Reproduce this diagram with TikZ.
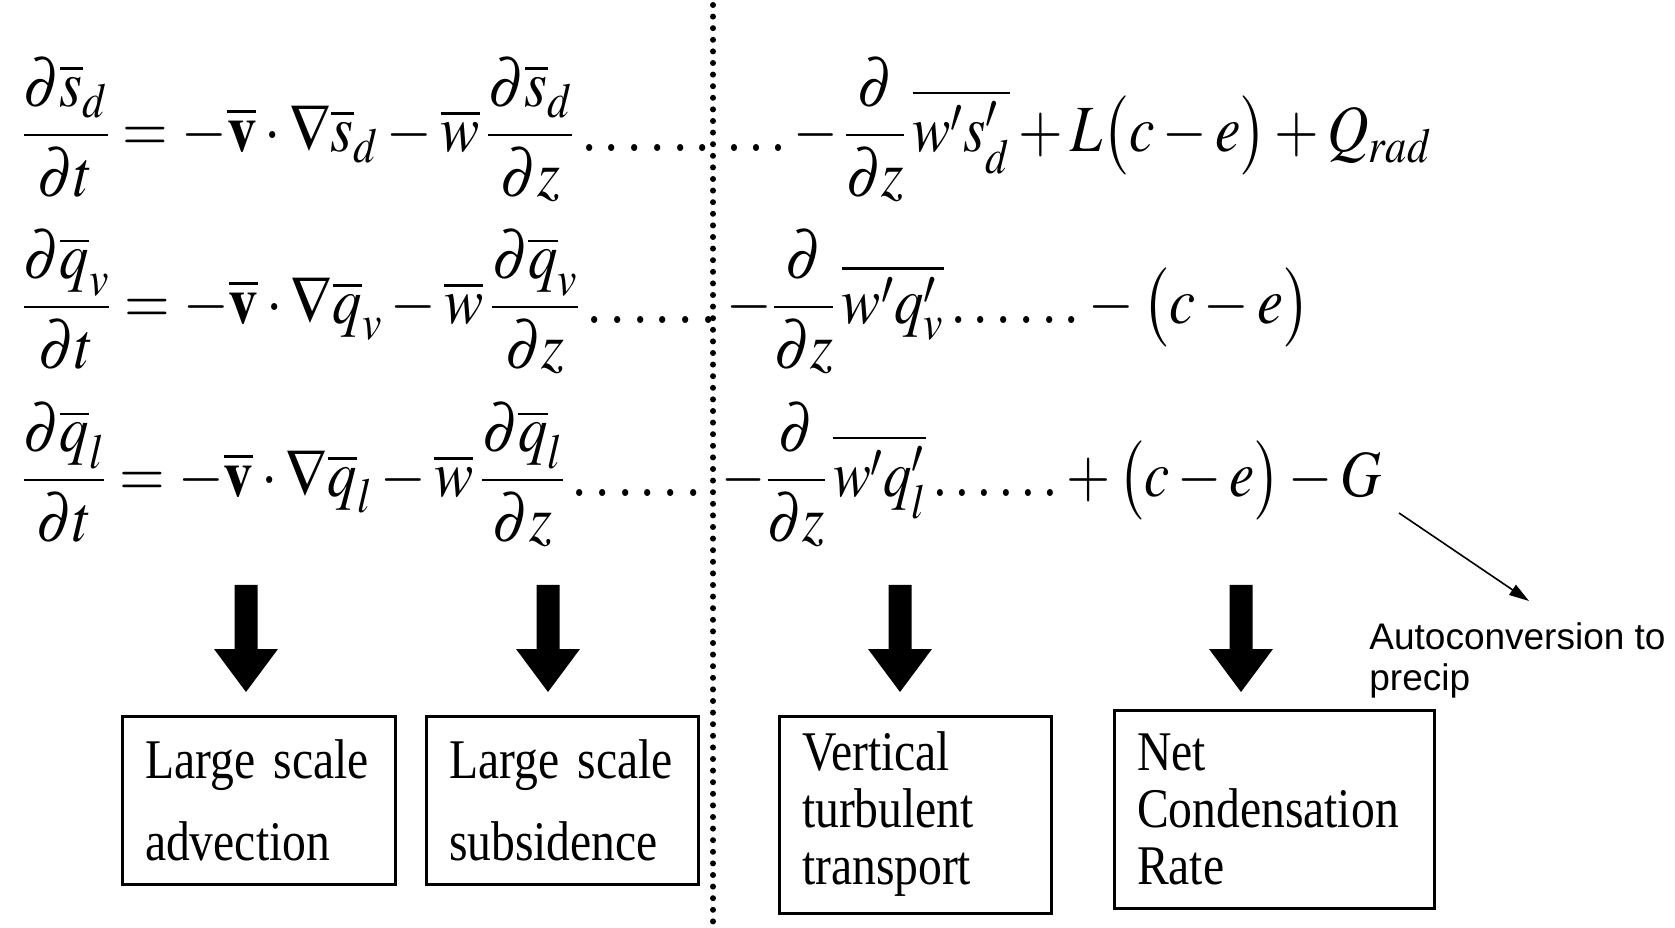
\documentclass[tikz,border=0pt]{standalone}
\usepackage{amsmath}
\usepackage{mathptmx}
\usepackage[no-math]{fontspec}
\setmainfont{Liberation Serif}
\setsansfont{Liberation Sans}
\newfontfamily\boxfont[FakeStretch=0.85]{Liberation Serif}
\usetikzlibrary{arrows.meta, positioning, calc}
\newcommand{\eqsqueeze}[2][0.89]{\scalebox{#1}[1]{#2}}
\tikzset{
  eqn/.style={anchor=west, inner sep=0pt, font=\fontsize{33}{40}\selectfont},
  termbox/.style={draw, line width=1.5pt, align=left, inner xsep=11.5pt,
    inner ysep=0pt, font=\boxfont\fontsize{28}{28.5}\selectfont},
  divider/.style={line width=3pt, line cap=round, dash pattern=on 0pt off 5.8pt},
  note/.style={anchor=north west, align=left, inner sep=0pt,
    font=\sffamily\fontsize{18.5}{20.5}\selectfont},
  thinflow/.style={-{Triangle[length=10pt, width=6pt]}, line width=0.8pt},
}

\begin{document}
\begin{tikzpicture}[x=0.5pt, y=0.5pt]
  \useasboundingbox (0,0) rectangle (1675,927);
  \fill[white] (0,0) rectangle (1675,927);

  % dotted divider
  \coordinate (divtop) at (713,922);
  \coordinate (divbot) at (713,0);
  \draw[divider] (divtop) -- (divbot);

  % budget equations
  \node[eqn] (sdl) at (21,797) {\eqsqueeze{$\dfrac{\partial\overline{s}_d}{\partial t}=-\overline{\mathbf{v}}\cdot\nabla\overline{s}_d-\overline{w}\,\dfrac{\partial\overline{s}_d}{\partial z}\ldots\ldots$}};
  \node[eqn] (sdr) at (726,797) {\eqsqueeze[0.87]{$\ldots{-}\,\dfrac{\partial}{\partial z}\,\overline{w's'_d}+L\bigl(c-e\bigr)+Q_{rad}$}};
  \node[eqn] (qvl) at (21,625) {\eqsqueeze{$\dfrac{\partial\overline{q}_v}{\partial t}=-\overline{\mathbf{v}}\cdot\nabla\overline{q}_v-\overline{w}\,\dfrac{\partial\overline{q}_v}{\partial z}\ldots\ldots$}};
  \node[eqn] (qvr) at (726,625) {\eqsqueeze{$-\dfrac{\partial}{\partial z}\,\overline{w'q'_v}\ldots\ldots-\bigl(c-e\bigr)$}};
  \node[eqn] (qll) at (21,452) {\eqsqueeze{$\dfrac{\partial\overline{q}_l}{\partial t}=-\overline{\mathbf{v}}\cdot\nabla\overline{q}_l-\overline{w}\,\dfrac{\partial\overline{q}_l}{\partial z}\ldots\ldots$}};
  \node[eqn] (qlr) at (721,452) {\eqsqueeze[0.86]{$-\dfrac{\partial}{\partial z}\,\overline{w'q'_l}\ldots\ldots+\bigl(c-e\bigr)-G$}};

  % block arrows
  \foreach \ax in {246,548,900,1241}{
    \fill (\ax-11.5,342) -- (\ax+11.5,342) -- (\ax+11.5,278) -- (\ax+32,278)
      -- (\ax,235) -- (\ax-32,278) -- (\ax-11.5,278) -- cycle;
  }

  % term boxes
  \node[termbox, text width=113.5pt, minimum height=84pt,
    font=\boxfont\fontsize{28}{41}\selectfont] (adv) at (258.5,127) {Large scale\\advection};
  \node[termbox, text width=113pt, minimum height=84pt,
    font=\boxfont\fontsize{28}{41}\selectfont] (subs) at (562,127) {Large scale\\subsidence};
  \node[termbox, text width=113pt, minimum height=98.5pt] (turb) at (915,112.5) {Vertical\\turbulent\\transport};
  \node[termbox, text width=137pt, minimum height=99pt] (cond) at (1274,118) {Net\\Condensation\\Rate};

  % autoconversion note
  \node[note] (auto) at (1369,305) {Autoconversion to\\precip};
  \coordinate (gtail) at (1399,414);
  \coordinate (autotip) at (1529,326);
  \draw[thinflow] (gtail) -- (autotip);
\end{tikzpicture}
\end{document}
